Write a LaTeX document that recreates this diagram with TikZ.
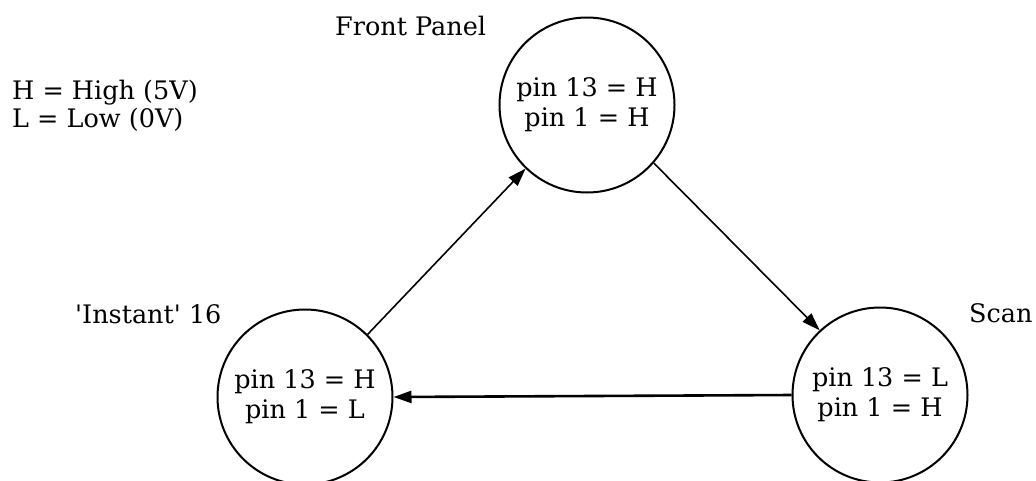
\documentclass[tikz,border=0pt]{standalone}
\usepackage{fontspec}
\setmainfont{DejaVu Serif}
\usetikzlibrary{arrows.meta}
\begin{document}
\begin{tikzpicture}[x=1pt,y=-1pt,
  state/.style={draw,circle,line width=2pt,minimum size=175pt,inner sep=0pt,align=center,font=\fontsize{25.5}{30}\selectfont},
  lbl/.style={anchor=base west,inner sep=0pt,font=\fontsize{25.5}{30}\selectfont},
  conn/.style={line width=1.6pt,-{Triangle[length=18pt,width=12pt]}},
]
\useasboundingbox (0,0) rectangle (1036,480);
\clip (0,0) rectangle (1036,480);
\node[state] (F) at (587,105) {pin 13 = H\\pin 1 = H};
\node[state] (L) at (305,397) {pin 13 = H\\pin 1 = L};
\node[state] (S) at (880,395) {pin 13 = L\\pin 1 = H};
\node[lbl] (fl) at (335,35) {Front Panel};
\node[lbl] (il) at (75,323) {\textquotesingle Instant\textquotesingle\ 16};
\node[lbl] (sl) at (969,322) {Scan};
\node[lbl] (h) at (12,99) {H = High (5V)};
\node[lbl] (l) at (12,127) {L = Low (0V)};
\draw[conn] (L.45) -- (F.226);
\draw[conn] (F.-41) -- (S.133);
\draw[conn,line width=2.6pt] (S.west) -- (L.east);
\end{tikzpicture}
\end{document}
